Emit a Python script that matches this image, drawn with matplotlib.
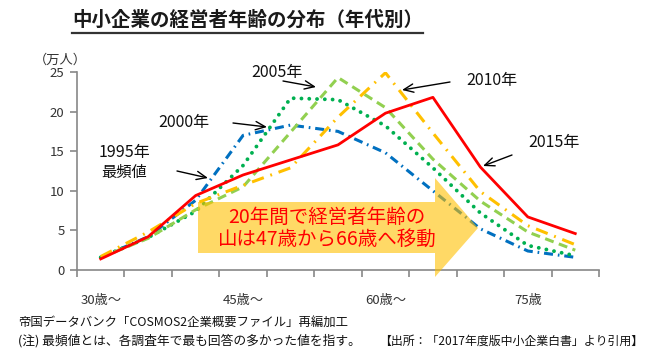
import matplotlib
matplotlib.use("Agg")
import matplotlib.pyplot as plt
from matplotlib.patches import Polygon
from matplotlib.lines import Line2D

plt.rcParams['font.family'] = ['Noto Sans CJK JP', 'DejaVu Sans']
plt.rcParams['lines.scale_dashes'] = False

# 年代 (5歳刻み) 30歳～ から 80歳～ まで
ages = ['30歳～', '35歳～', '40歳～', '45歳～', '50歳～', '55歳～',
        '60歳～', '65歳～', '70歳～', '75歳', '80歳～']
label_idx = [0, 3, 6, 9]

# 経営者数 (万人)
y1995 = [1.6, 4.2, 8.8, 17.0, 18.3, 17.5, 14.8, 10.0, 5.2, 2.4, 1.6]
y2000 = [1.6, 4.1, 7.4, 13.2, 21.7, 21.5, 18.2, 12.9, 7.2, 3.1, 1.8]
y2005 = [1.6, 4.0, 7.6, 10.5, 17.4, 24.3, 20.5, 14.0, 8.7, 4.8, 2.5]
y2010 = [1.7, 4.8, 8.4, 10.7, 12.9, 19.3, 24.9, 17.3, 9.9, 5.6, 3.2]
y2015 = [1.4, 4.2, 9.4, 12.0, 13.9, 15.8, 19.8, 21.8, 13.0, 6.7, 4.6]

W, H = 654, 355
fig = plt.figure(figsize=(W / 100, H / 100), dpi=100)

# 軸の位置 (ピクセル)
L, R, B, T = 77, 599, 270, 72
ax = fig.add_axes([L / W, 1 - B / H, (R - L) / W, (B - T) / H])

x = list(range(len(ages)))
ax.plot(x, y1995, color='#0070C0', lw=2.2, dashes=(6.5, 3.5, 1.2, 3.5), zorder=2)
ax.plot(x, y2000, color='#00B050', lw=2.8, dashes=(0.01, 5.6),
        dash_capstyle='round', zorder=3)
ax.plot(x, y2005, color='#92D050', lw=2.2, dashes=(6.5, 4), zorder=4)
ax.plot(x, y2010, color='#FFC000', lw=2.2, dashes=(9, 5, 1.3, 5), zorder=5)
ax.plot(x, y2015, color='#FF0000', lw=2.0, zorder=6)

ax.set_xlim(-0.5, len(ages) - 0.5)
ax.set_ylim(0, 25)
ax.set_yticks([0, 5, 10, 15, 20, 25])
ax.tick_params(axis='y', labelsize=9.5, colors='#333333', length=5, width=1.2,
               color='#888888', pad=4)
ax.set_xticks([i - 0.5 for i in range(len(ages) + 1)])
ax.set_xticklabels([])
ax.tick_params(axis='x', which='major', length=5, width=1.2, color='#888888')
ax.set_xticks(label_idx, minor=True)
ax.set_xticklabels([ages[i] for i in label_idx], minor=True)
ax.tick_params(axis='x', which='minor', length=0, labelsize=9.5,
               colors='#333333', pad=17)
for s in ['top', 'right']:
    ax.spines[s].set_visible(False)
for s in ['left', 'bottom']:
    ax.spines[s].set_color('#888888')
    ax.spines[s].set_linewidth(1.2)


def px(xp, yp):
    # ピクセル位置 -> データ座標
    return ((xp - L) / ((R - L) / len(ages)) - 0.5, (B - yp) / ((B - T) / 25))


# 大きい矢印
arrow_px = [(198, 202), (435, 202), (435, 178), (478, 228),
            (435, 277), (435, 253), (198, 253)]
arrow = Polygon([px(a, b) for a, b in arrow_px], closed=True,
                facecolor='#FFC000', alpha=0.6, edgecolor='none',
                zorder=8, clip_on=False)
ax.add_patch(arrow)
ax.text(*px(327, 228), '20年間で経営者年齢の\n山は47歳から66歳へ移動',
        color='#FF0000', fontsize=14, ha='center', va='center',
        linespacing=1.05, zorder=9)

# 年のラベルと矢印
labels = [('2005年', (277, 73), (283, 81), (316, 87)),
          ('2000年', (184, 122), (233, 123), (267, 127)),
          ('1995年', (125, 153), (177, 171), (208, 178)),
          ('2010年', (492, 81), (450, 82), (402, 90)),
          ('2015年', (554, 143), (512, 155), (483, 166))]
for txt, tp, a0, a1 in labels:
    ax.text(*px(*tp), txt, fontsize=11.5, ha='center', va='center', color='#111111')
    ax.annotate('', xy=px(*a1), xytext=px(*a0),
                arrowprops=dict(arrowstyle='->,head_length=0.7,head_width=0.3',
                                lw=1.0, color='black', shrinkA=0, shrinkB=0))
ax.text(*px(124, 172), '最頻値', fontsize=11, ha='center', va='center', color='#111111')

ax.text(*px(60, 60), '（万人）', fontsize=9.5, ha='center', va='center', color='#333333')

# タイトル
title = fig.text(72 / W, 1 - 20 / H, '中小企業の経営者年齢の分布（年代別）',
                 fontsize=14, fontweight='bold', ha='left', va='center',
                 color='#1a1a1a')
fig.canvas.draw()
bb = title.get_window_extent()
fig.add_artist(Line2D([bb.x0 / W, bb.x1 / W], [1 - 33 / H, 1 - 33 / H],
                      color='#333333', lw=1.6, transform=fig.transFigure))

# 注記
fig.text(18 / W, 1 - 322 / H, '帝国データバンク「COSMOS2企業概要ファイル」再編加工',
         fontsize=8.9, ha='left', va='center', color='#111111')
fig.text(18 / W, 1 - 341 / H, '(注) 最頻値とは、各調査年で最も回答の多かった値を指す。',
         fontsize=9.2, ha='left', va='center', color='#111111')
fig.text(643 / W, 1 - 341 / H, '【出所：「2017年度版中小企業白書」より引用】',
         fontsize=8.6, ha='right', va='center', color='#111111')

fig.savefig('out.png', dpi=100)
